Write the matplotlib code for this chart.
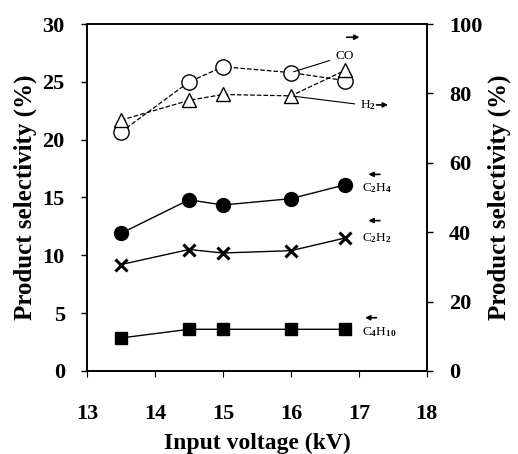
import matplotlib
matplotlib.use('Agg')
import matplotlib.pyplot as plt

# data
voltage = [13.5, 14.5, 15.0, 16.0, 16.8]
co = [68.9, 83.3, 87.7, 86.0, 83.7]        # right axis
h2 = [72.3, 78.0, 79.7, 79.3, 86.7]        # right axis
c2h4 = [11.9, 14.8, 14.35, 14.9, 16.1]     # left axis
c2h2 = [9.2, 10.5, 10.2, 10.4, 11.5]       # left axis
c4h10 = [2.85, 3.6, 3.6, 3.6, 3.6]         # left axis

x_ticks = [13, 14, 15, 16, 17, 18]
left_ticks = [0, 5, 10, 15, 20, 25, 30]
right_ticks = [0, 20, 40, 60, 80, 100]

plt.rcParams['font.family'] = ['Liberation Serif', 'DejaVu Serif']
plt.rcParams['font.weight'] = 'bold'
plt.rcParams['mathtext.fontset'] = 'custom'
plt.rcParams['mathtext.rm'] = 'Liberation Serif'
plt.rcParams['mathtext.default'] = 'rm'

fig = plt.figure(figsize=(5.18, 4.54), dpi=100)
ax = fig.add_axes([0.168, 0.183, 0.656, 0.764])
ax2 = ax.twinx()

ax.plot(voltage, c2h4, '-', color='black', lw=1.0, marker='o', ms=10, mfc='black', mec='black')
ax.plot(voltage, c2h2, '-', color='black', lw=1.0, marker='x', ms=9, mew=2.2)
ax.plot(voltage, c4h10, '-', color='black', lw=1.0, marker='s', ms=8, mfc='black', mec='black')

ax2.plot(voltage, co, '--', color='black', lw=0.9, marker='o', ms=11, mfc='white', mec='black', mew=1.0)
ax2.plot(voltage, h2, '--', color='black', lw=0.9, marker='^', ms=10, mfc='white', mec='black', mew=1.0)

ax.set_xlim(13, 18)
ax.set_ylim(0, 30)
ax2.set_ylim(0, 100)
ax.set_xticks(x_ticks)
ax.set_yticks(left_ticks)
ax2.set_yticks(right_ticks)

for a in (ax, ax2):
    a.tick_params(labelsize=16, width=1.0, length=4, direction='out', pad=12)
ax.tick_params(axis='x', pad=20, length=4, width=0.8)

ax.set_xlabel('Input voltage (kV)', fontsize=17, fontweight='bold', labelpad=6)
ax.set_ylabel('Product selectivity (%)', fontsize=18, fontweight='bold', labelpad=4)
ax2.set_ylabel('Product selectivity (%)', fontsize=18, fontweight='bold', labelpad=4,
               rotation=90)

for a in (ax, ax2):
    for s in a.spines.values():
        s.set_linewidth(1.2)

# annotations with direction arrows
lab = dict(fontsize=9.5, fontweight='normal', va='center', ha='left')
arr = dict(arrowstyle='-|>', color='black', lw=1.2, mutation_scale=7)

ax2.annotate('CO', xy=(16.0, co[3]), xytext=(16.65, 90.8), fontsize=9.5, fontweight='normal',
             va='center', ha='left', arrowprops=dict(arrowstyle='-', color='black', lw=0.8))
ax2.annotate('', xy=(17.05, 96.2), xytext=(16.78, 96.2), arrowprops=arr)

ax2.annotate('H$_2$', xy=(16.0, h2[3]), xytext=(17.02, 76.5), fontsize=9.5, fontweight='normal',
             va='center', ha='left', arrowprops=dict(arrowstyle='-', color='black', lw=0.8))
ax2.annotate('', xy=(17.47, 76.7), xytext=(17.22, 76.7), arrowprops=arr)

ax.text(17.05, 15.8, 'C$_2$H$_4$', **lab)
ax.annotate('', xy=(17.1, 17.0), xytext=(17.35, 17.0), arrowprops=arr)
ax.text(17.05, 11.5, 'C$_2$H$_2$', **lab)
ax.annotate('', xy=(17.1, 13.0), xytext=(17.35, 13.0), arrowprops=arr)
ax.text(17.05, 3.4, 'C$_4$H$_{10}$', **lab)
ax.annotate('', xy=(17.05, 4.6), xytext=(17.3, 4.6), arrowprops=arr)

fig.savefig('out.png', dpi=100)
